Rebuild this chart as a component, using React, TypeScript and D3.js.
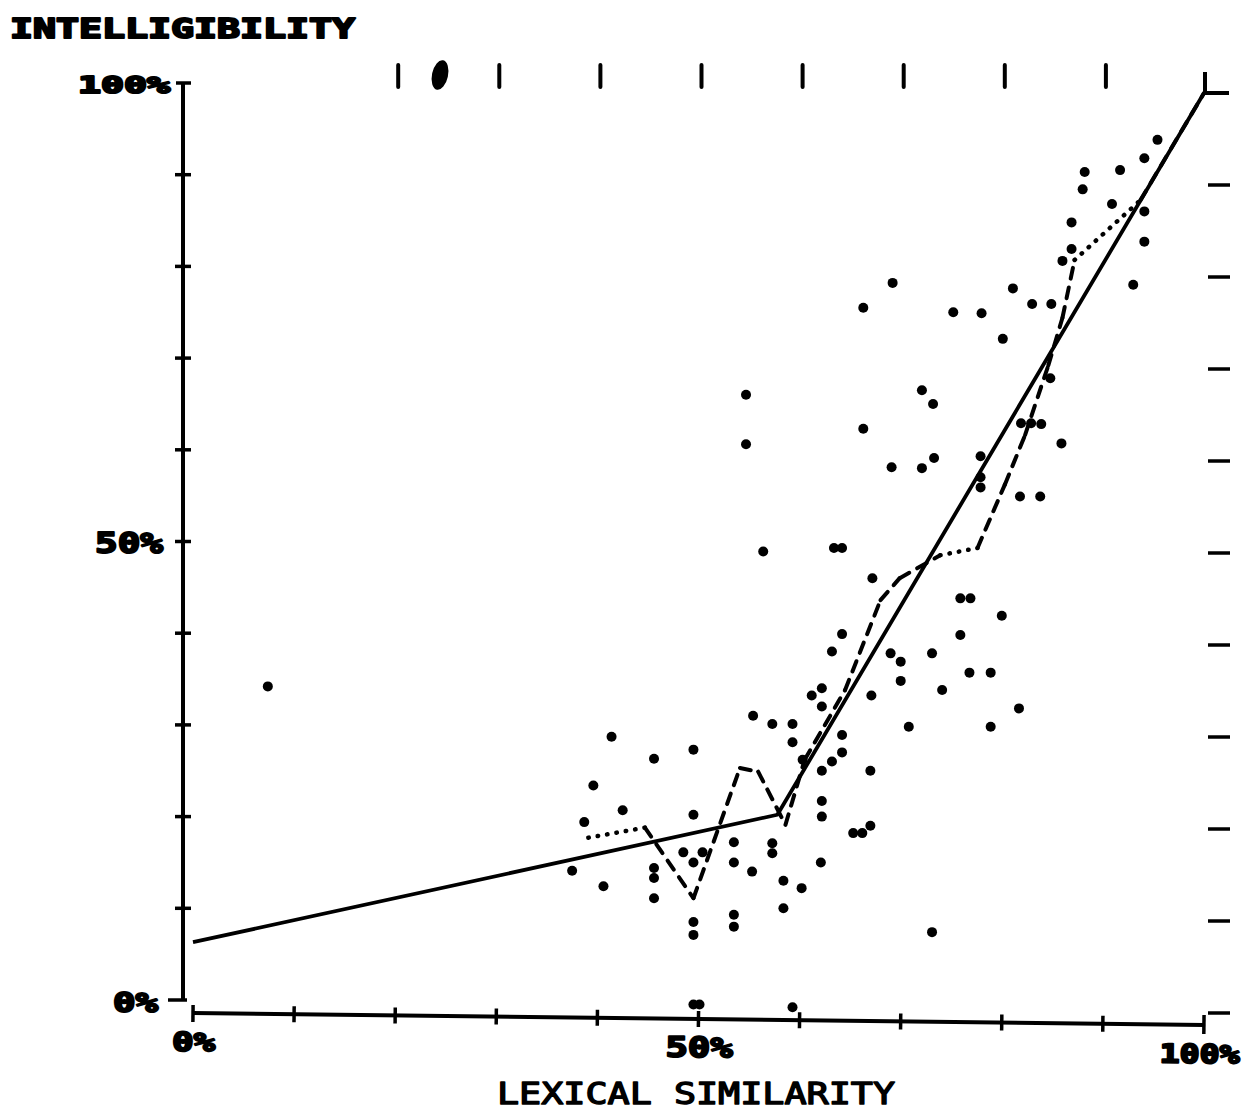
import React from "react";
import * as d3 from "d3";

const W = 1253;
const H = 1111;

// axis ticks (percent)
const yTickValues = [0, 10, 20, 30, 40, 50, 60, 70, 80, 90, 100];
const xTickValues = [0, 10, 20, 30, 40, 50, 60, 70, 80, 90, 100];
const topTickValues = [20, 30, 40, 50, 60, 70, 80, 90];
const rightTickValues = [0, 10, 20, 30, 40, 50, 60, 70, 80, 90];

const yTickLabels = [
  { v: 100, t: "100%" },
  { v: 50, t: "50%" },
  { v: 0, t: "0%" },
];
const xTickLabels = [
  { v: 0, t: "0%" },
  { v: 50, t: "50%" },
  { v: 100, t: "100%" },
];

// solid regression line [lexical similarity %, intelligibility %]
const solidLine: [number, number][] = [
  [0, 6.3],
  [57.8, 20.2],
  [100, 98.9],
];

// broken (dashed / dotted) running line
const brokenLine: [number, number][] = [
  [39.1, 17.7],
  [44.7, 18.8],
  [49.5, 11.1],
  [54.1, 25.3],
  [55.9, 24.9],
  [58.6, 19.1],
  [60.5, 26.2],
  [64.5, 33.8],
  [68.0, 43.6],
  [69.9, 46.0],
  [73.9, 48.5],
  [77.6, 49.3],
  [80.3, 56.2],
  [82.3, 61.6],
  [84.6, 69.2],
  [86.0, 74.4],
  [87.2, 80.7],
  [93.7, 87.2],
  [100, 98.9],
];
const brokenStyles = [
  "dot", "dash", "dash", "dash", "dash", "dash", "dash", "dash", "dash",
  "dash", "dot", "dash", "dash", "dash", "dash", "dash", "dot", "dash",
];

// scatter of language pairs [lexical similarity %, intelligibility %]
const points: [number, number][] = [
  [95.4, 93.8], [94.1, 91.8], [88.2, 90.3], [91.7, 90.5], [88.0, 88.4],
  [90.9, 86.8], [94.1, 86.0], [86.9, 84.8], [94.1, 82.7], [86.9, 81.9],
  [86.0, 80.6], [81.1, 77.6], [93.0, 78.0], [83.0, 75.9], [84.9, 75.9],
  [75.2, 75.0], [78.0, 74.9], [80.1, 72.1], [84.8, 67.8], [81.9, 62.9],
  [82.9, 62.9], [83.9, 62.8], [85.9, 60.7], [77.9, 59.3], [77.9, 57.0],
  [77.9, 55.9], [81.8, 54.9], [83.8, 54.9], [69.2, 78.2], [66.3, 75.5],
  [54.7, 66.0], [72.1, 66.5], [73.2, 65.0], [66.3, 62.3], [54.7, 60.6],
  [69.1, 58.1], [72.1, 58.0], [73.3, 59.1], [63.4, 49.3], [64.2, 49.3],
  [56.4, 48.9], [67.2, 46.0], [75.9, 43.8], [76.9, 43.8], [80.0, 41.9],
  [64.2, 39.9], [75.9, 39.8], [63.2, 38.0], [69.0, 37.8], [73.1, 37.8],
  [70.0, 36.9], [76.8, 35.7], [78.9, 35.7], [70.0, 34.8], [62.2, 34.0],
  [61.2, 33.2], [67.1, 33.2], [74.1, 33.8], [62.2, 32.0], [81.7, 31.8],
  [59.3, 30.1], [59.3, 28.1], [64.2, 28.9], [64.2, 27.0], [70.8, 29.8],
  [78.9, 29.8], [63.2, 26.0], [60.3, 26.2], [55.4, 31.0], [57.3, 30.1],
  [62.2, 25.0], [67.0, 25.0], [41.4, 28.7], [49.5, 27.3], [45.6, 26.3],
  [39.6, 23.4], [42.5, 20.7], [38.7, 19.4], [49.5, 20.2], [62.2, 21.7],
  [62.2, 20.0], [67.0, 19.0], [65.3, 18.2], [66.2, 18.2], [53.5, 17.2],
  [57.3, 17.1], [57.3, 16.0], [48.5, 16.1], [50.4, 16.1], [49.5, 15.0],
  [53.5, 15.0], [62.1, 15.0], [37.5, 14.1], [45.6, 14.4], [45.6, 13.3],
  [55.3, 14.0], [40.6, 12.4], [58.4, 13.0], [60.2, 12.2], [45.6, 11.1],
  [58.4, 10.0], [49.5, 8.5], [49.5, 7.1], [53.5, 9.3], [53.5, 8.0],
  [7.4, 34.2], [73.1, 7.4], [49.5, -0.5], [50.1, -0.5], [59.3, -0.8],
];

const FONT = "'DejaVu Sans Mono', 'Liberation Mono', monospace";

export default function App() {
  const x = d3.scaleLinear().domain([0, 100]).range([193, 1204]);
  const y = d3.scaleLinear().domain([0, 100]).range([1000, 83]);
  const axisX = 183;
  const xAxisY = 1013;
  const tilt = (Math.atan2(12, 1011) * 180) / Math.PI;

  const line = d3
    .line<[number, number]>()
    .x((d) => x(d[0]))
    .y((d) => y(d[1]));

  const rightOffset = (v: number) => 10 + (100 - v) * 0.03;

  return (
    <svg
      width={W}
      height={H}
      viewBox={`0 0 ${W} ${H}`}
      style={{ position: "absolute", left: 0, top: 0, background: "#fff", display: "block" }}
    >
      <rect x={0} y={0} width={W} height={H} fill="#fff" />

      {/* title */}
      <text
        x={10}
        y={38}
        fontFamily={FONT}
        fontWeight="bold"
        fontSize={27}
        textLength={345}
        lengthAdjust="spacingAndGlyphs"
        fill="#000"
        stroke="#000"
        strokeWidth={2}
        strokeLinejoin="round"
      >
        INTELLIGIBILITY
      </text>

      {/* y axis */}
      <line x1={axisX} y1={y(100)} x2={axisX} y2={y(0)} stroke="#000" strokeWidth={4} />
      <line x1={axisX - 7} y1={y(100)} x2={axisX + 8} y2={y(100)} stroke="#000" strokeWidth={3.5} />
      <line x1={axisX - 15} y1={y(0)} x2={axisX + 4} y2={y(0)} stroke="#000" strokeWidth={3.5} />
      {yTickValues
        .filter((v) => v > 0 && v < 100)
        .map((v) => (
          <line key={"yt" + v} x1={axisX - 8} y1={y(v)} x2={axisX + 8} y2={y(v)} stroke="#000" strokeWidth={3.5} />
        ))}
      {yTickLabels.map((d) => {
        const conf: Record<number, { end: number; len: number; size: number; dy: number }> = {
          100: { end: 170, len: 92, size: 23, dy: 10 },
          50: { end: 163, len: 68, size: 29, dy: 11 },
          0: { end: 158, len: 45, size: 27, dy: 12 },
        };
        const c = conf[d.v];
        return (
          <text
            key={"yl" + d.v}
            x={c.end - c.len}
            y={y(d.v) + c.dy}
            fontFamily={FONT}
            fontWeight="bold"
            fontSize={c.size}
            textLength={c.len}
            lengthAdjust="spacingAndGlyphs"
            fill="#000"
            stroke="#000"
            strokeWidth={2}
            strokeLinejoin="round"
          >
            {d.t}
          </text>
        );
      })}

      {/* top ticks */}
      {topTickValues.map((v) => (
        <line key={"tt" + v} x1={x(v) + 3} y1={65} x2={x(v) + 3} y2={87} stroke="#000" strokeWidth={4} strokeLinecap="round" />
      ))}
      <line x1={x(100) + 1} y1={72} x2={x(100) + 1} y2={94} stroke="#000" strokeWidth={4} />
      <line x1={x(100) + 1} y1={93} x2={x(100) + 25} y2={93} stroke="#000" strokeWidth={4} />
      {/* ink blob */}
      <ellipse cx={440} cy={75} rx={8} ry={15} transform="rotate(12 440 75)" fill="#000" />

      {/* right ticks */}
      {rightTickValues.map((v) => (
        <line
          key={"rt" + v}
          x1={1208}
          y1={y(v) + rightOffset(v)}
          x2={1230}
          y2={y(v) + rightOffset(v)}
          stroke="#000"
          strokeWidth={3.5}
        />
      ))}

      {/* x axis (slightly tilted as in the scan) */}
      <g transform={`rotate(${tilt} ${x(0)} ${xAxisY})`}>
        <line x1={x(0)} y1={xAxisY} x2={x(100)} y2={xAxisY} stroke="#000" strokeWidth={4} />
        <line x1={x(0)} y1={xAxisY - 8} x2={x(0)} y2={xAxisY + 9} stroke="#000" strokeWidth={3.5} />
        <line x1={x(100)} y1={xAxisY - 10} x2={x(100)} y2={xAxisY + 9} stroke="#000" strokeWidth={3.5} />
        {xTickValues
          .filter((v) => v > 0 && v < 100)
          .map((v) => (
            <line key={"xt" + v} x1={x(v)} y1={xAxisY - 8} x2={x(v)} y2={xAxisY + 8} stroke="#000" strokeWidth={3.5} />
          ))}
        {xTickLabels.map((d) => {
          const conf: Record<number, { len: number; size: number; dx: number }> = {
            0: { len: 43, size: 26, dx: 1 },
            50: { len: 67, size: 28, dx: 1 },
            100: { len: 80, size: 26, dx: -4 },
          };
          const c = conf[d.v];
          return (
            <text
              key={"xl" + d.v}
              x={x(d.v) + c.dx - c.len / 2}
              y={xAxisY + 38}
              fontFamily={FONT}
              fontWeight="bold"
              fontSize={c.size}
              textLength={c.len}
              lengthAdjust="spacingAndGlyphs"
              fill="#000"
              stroke="#000"
              strokeWidth={2}
              strokeLinejoin="round"
            >
              {d.t}
            </text>
          );
        })}
      </g>

      <text
        x={497}
        y={1104}
        fontFamily={FONT}
        fontSize={30}
        textLength={398}
        lengthAdjust="spacingAndGlyphs"
        fill="#000"
        stroke="#000"
        strokeWidth={1.4}
        strokeLinejoin="round"
      >
        LEXICAL SIMILARITY
      </text>

      {/* solid line */}
      <path d={line(solidLine) || ""} fill="none" stroke="#000" strokeWidth={3.8} strokeLinejoin="round" />

      {/* broken line */}
      {brokenStyles.map((s, i) => {
        const seg = [brokenLine[i], brokenLine[i + 1]];
        return (
          <path
            key={"b" + i}
            d={line(seg) || ""}
            fill="none"
            stroke="#000"
            strokeWidth={s === "dot" ? 4.5 : 4}
            strokeLinecap="round"
            strokeDasharray={s === "dot" ? "0.5 9" : "11 9"}
          />
        );
      })}

      {/* scatter */}
      {points.map((p, i) => (
        <circle key={"p" + i} cx={x(p[0])} cy={y(p[1])} r={5} fill="#000" />
      ))}
    </svg>
  );
}
